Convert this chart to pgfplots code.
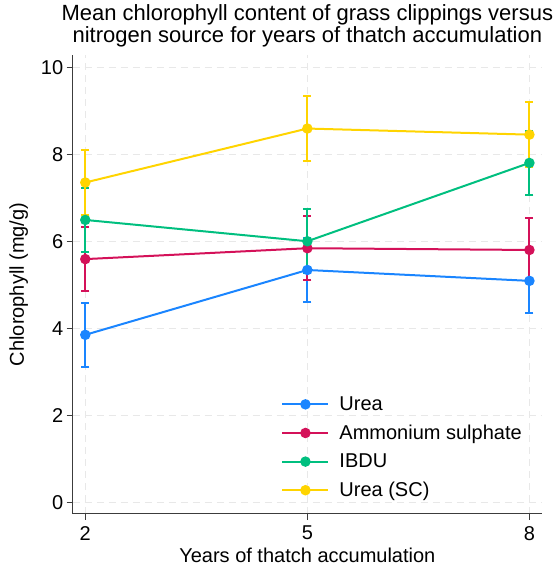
\documentclass[border=0pt]{standalone}
\usepackage{fontspec}
\setmainfont{Liberation Sans}
\usepackage{pgfplots}
\pgfplotsset{compat=1.18}
\usepackage{pgfplotstable}

\definecolor{stcA}{RGB}{26,133,255}
\definecolor{stcB}{RGB}{212,17,89}
\definecolor{stcC}{RGB}{0,191,127}
\definecolor{stcD}{RGB}{255,212,0}
\definecolor{gridgray}{RGB}{232,232,232}
\definecolor{axisgray}{RGB}{60,60,60}

% years, mean chlorophyll, error (mg/g)
\pgfplotstableread{
x  y     e
2  3.85  0.73
5  5.34  0.73
8  5.09  0.73
}\urea
\pgfplotstableread{
x  y     e
2  5.59  0.74
5  5.84  0.74
8  5.80  0.74
}\ammsul
\pgfplotstableread{
x  y     e
2  6.49  0.74
5  6.00  0.74
8  7.80  0.74
}\ibdu
\pgfplotstableread{
x  y     e
2  7.35  0.74
5  8.59  0.74
8  8.45  0.74
}\ureasc

\begin{document}
\begin{tikzpicture}
\useasboundingbox (-72.7pt,-55.3pt) rectangle (483.3pt,513.7pt);
\begin{axis}[
  scale only axis,
  width=469.3pt, height=458.7pt,
  xmin=1.83, xmax=8.17,
  ymin=-0.26, ymax=10.28,
  xtick={2,5,8}, ytick={0,2,4,6,8,10},
  axis x line*=bottom, axis y line*=left,
  axis line style={axisgray, line width=1.2pt, -},
  tick style={axisgray, line width=1.2pt},
  tick align=outside,
  major tick length=6pt,
  grid=major,
  grid style={gridgray, dash pattern=on 7pt off 5pt, line width=1pt},
  /pgf/number format/assume math mode=true,
  ticklabel style={font=\fontsize{20}{24}\selectfont},
  xticklabel style={yshift=-3pt},
  title={Mean chlorophyll content of grass clippings versus\\nitrogen source for years of thatch accumulation},
  title style={font=\fontsize{22}{22}\selectfont, align=center, yshift=-2pt},
  xlabel={Years of thatch accumulation},
  ylabel={Chlorophyll (mg/g)},
  label style={font=\fontsize{20}{24}\selectfont},
  xlabel style={yshift=-1pt},
  ylabel style={yshift=6pt},
  legend style={at={(0.438,0.262)}, anchor=north west, draw=none, fill=none,
    font=\fontsize{20}{24}\selectfont, row sep=11pt,
    nodes={inner sep=1pt},
    /tikz/every odd column/.append style={column sep=9pt}},
  legend cell align=left,
  legend image code/.code={%
    \draw[mark repeat=2, mark phase=2] plot coordinates {(0pt,0pt) (23pt,0pt) (46pt,0pt)};},
  every axis plot/.append style={line width=2pt, mark=*, mark size=4.2pt,
    mark options={solid}},
  error bars/y dir=both, error bars/y explicit,
  error bars/error bar style={line width=2pt},
  error bars/error mark options={rotate=90, mark size=4pt, line width=2pt},
]
\addplot[stcA, error bars/error bar style={stcA, line width=2pt},
  error bars/error mark options={stcA, rotate=90, mark size=4pt, line width=2pt}]
  table[x=x, y=y, y error=e] {\urea};
\addlegendentry{Urea}
\addplot[stcB, error bars/error bar style={stcB, line width=2pt},
  error bars/error mark options={stcB, rotate=90, mark size=4pt, line width=2pt}]
  table[x=x, y=y, y error=e] {\ammsul};
\addlegendentry{Ammonium sulphate}
\addplot[stcC, error bars/error bar style={stcC, line width=2pt},
  error bars/error mark options={stcC, rotate=90, mark size=4pt, line width=2pt}]
  table[x=x, y=y, y error=e] {\ibdu};
\addlegendentry{IBDU}
\addplot[stcD, error bars/error bar style={stcD, line width=2pt},
  error bars/error mark options={stcD, rotate=90, mark size=4pt, line width=2pt}]
  table[x=x, y=y, y error=e] {\ureasc};
\addlegendentry{Urea (SC)}
\end{axis}
\end{tikzpicture}
\end{document}
